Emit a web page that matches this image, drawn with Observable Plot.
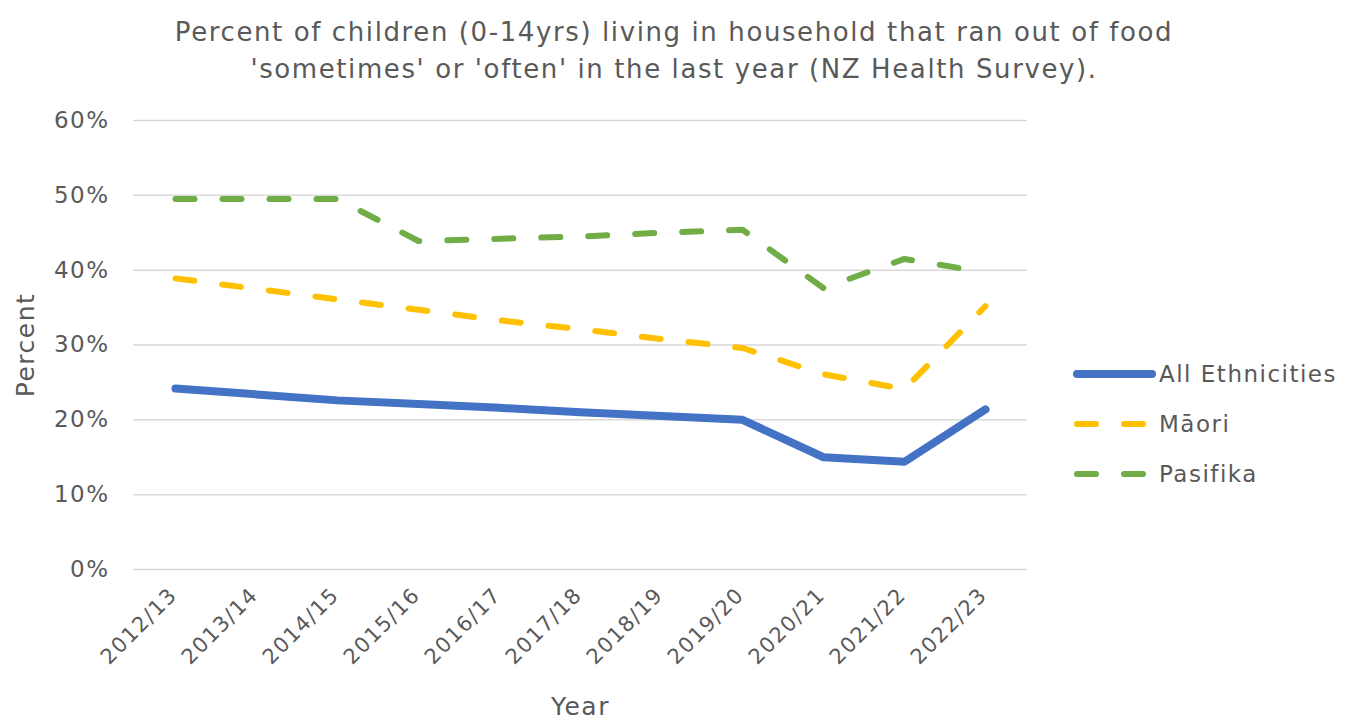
<!DOCTYPE html>
<html>
<head>
<meta charset="utf-8">
<script src="https://cdn.jsdelivr.net/npm/d3@7"></script>
<script src="https://cdn.jsdelivr.net/npm/@observablehq/plot@0.6"></script>
<style>
  body { margin: 0; background: #fff; font-family: "DejaVu Sans", sans-serif; color: #595959; }
  #wrap { position: relative; width: 1348px; height: 722px; overflow: hidden; }
  #title { position: absolute; left: 0; top: 14px; width: 1348px; text-align: center; font-size: 26px; line-height: 37px; letter-spacing: 1.6px; color: #595959; }
  #chart { position: absolute; left: 0; top: 95px; }
  #chart svg text { letter-spacing: 1.5px; }
  #legend { position: absolute; left: 1072px; top: 349px; font-size: 23px; letter-spacing: 1.5px; color: #595959; }
  .item { display: flex; align-items: center; height: 50px; }
  .item svg { margin-right: 3px; }
</style>
</head>
<body>
<div id="wrap">
  <div id="title">Percent of children (0-14yrs) living in household that ran out of food<br>'sometimes' or 'often' in the last year (NZ Health Survey).</div>
  <div id="chart"></div>
  <div id="legend"></div>
</div>
<script>
const years = ["2012/13","2013/14","2014/15","2015/16","2016/17","2017/18","2018/19","2019/20","2020/21","2021/22","2022/23"];
const allEthnicities = [24.2, 23.4, 22.6, 22.1, 21.6, 21.0, 20.5, 20.0, 15.0, 14.4, 21.4];
const maori = [38.9, 37.5, 36.1, 34.7, 33.3, 32.1, 30.8, 29.6, 26.1, 24.1, 35.2];
const pasifika = [49.5, 49.5, 49.5, 43.9, 44.2, 44.5, 45.0, 45.4, 37.6, 41.5, 39.7];
const seriesNames = ["All Ethnicities", "Māori", "Pasifika"];
const seriesColors = ["#4472C4", "#FFC000", "#70AD47"];
const yTicks = [0, 10, 20, 30, 40, 50, 60];

const seriesValues = [allEthnicities, maori, pasifika];
const rows = seriesNames.flatMap((s, i) => years.map((y, j) => ({series: s, year: y, value: seriesValues[i][j]})));

const chart = Plot.plot({
  width: 1348,
  height: 627,
  marginTop: 25,
  marginBottom: 153,
  marginLeft: 133,
  marginRight: 321,
  style: {fontFamily: "DejaVu Sans, sans-serif", color: "#595959", background: "transparent"},
  x: {type: "point", domain: years, padding: 0.5, label: null},
  y: {domain: [0, 60], label: null},
  color: {domain: seriesNames, range: seriesColors},
  marks: [
    Plot.ruleY(yTicks, {stroke: "#d9d9d9", strokeWidth: 1.5}),
    Plot.axisY({ticks: yTicks, tickSize: 0, tickPadding: 24, tickFormat: d => d + "%", fontSize: 23, label: null}),
    Plot.axisX({tickSize: 0, tickPadding: 22, dx: -2, tickRotate: -45, fontSize: 21, label: null}),
    Plot.text(["Percent"], {frameAnchor: "left", textAnchor: "middle", dx: -108, rotate: -90, fontSize: 25, fill: "#595959"}),
    Plot.text(["Year"], {frameAnchor: "bottom", dy: 145, fontSize: 25, fill: "#595959"}),
    Plot.line(rows.filter(d => d.series === "Pasifika"), {x: "year", y: "value", stroke: "series", strokeWidth: 6, strokeDasharray: "19,28", strokeLinecap: "round"}),
    Plot.line(rows.filter(d => d.series === "Māori"), {x: "year", y: "value", stroke: "series", strokeWidth: 6, strokeDasharray: "19,28", strokeLinecap: "round"}),
    Plot.line(rows.filter(d => d.series === "All Ethnicities"), {x: "year", y: "value", stroke: "series", strokeWidth: 8, strokeLinecap: "round", strokeLinejoin: "round"})
  ]
});
document.getElementById("chart").appendChild(chart);

const legend = document.getElementById("legend");
seriesNames.forEach((name, i) => {
  const item = document.createElement("div");
  item.className = "item";
  const dash = i === 0 ? "" : 'stroke-dasharray="19,28"';
  const w = i === 0 ? 8 : 6;
  item.innerHTML = `<svg width="84" height="12"><line x1="5" y1="6" x2="${i === 0 ? 80 : 78}" y2="6" stroke="${seriesColors[i]}" stroke-width="${w}" stroke-linecap="round" ${dash}/></svg><span>${name}</span>`;
  legend.appendChild(item);
});
</script>
</body>
</html>
